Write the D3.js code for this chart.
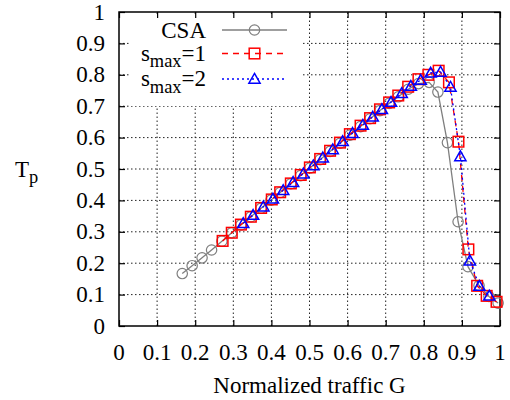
<!DOCTYPE html>
<html><head><meta charset="utf-8">
<script src="https://cdn.jsdelivr.net/npm/d3@7"></script>
<style>body{margin:0;background:#fff}svg{display:block}</style>
</head><body><svg id="c" width="510" height="400" font-family="'Liberation Serif', 'DejaVu Serif', serif"></svg>
<script>
const xTicks = [0,0.1,0.2,0.3,0.4,0.5,0.6,0.7,0.8,0.9,1];
const xTickLabels = ["0","0.1","0.2","0.3","0.4","0.5","0.6","0.7","0.8","0.9","1"];
const yTicks = [0,0.1,0.2,0.3,0.4,0.5,0.6,0.7,0.8,0.9,1];
const yTickLabels = ["0","0.1","0.2","0.3","0.4","0.5","0.6","0.7","0.8","0.9","1"];

const csaG = [0.166,0.192,0.218,0.243,0.270,0.296,0.320,0.346,0.373,0.399,0.423,0.451,0.477,0.501,0.528,0.554,0.580,0.606,0.634,0.659,0.685,0.709,0.733,0.759,0.786,0.814,0.837,0.862,0.890,0.916,0.945,0.971,0.995];
const csaT = [0.167,0.192,0.217,0.242,0.270,0.297,0.322,0.348,0.375,0.401,0.425,0.453,0.479,0.503,0.530,0.556,0.582,0.608,0.635,0.660,0.686,0.709,0.730,0.754,0.772,0.776,0.745,0.584,0.332,0.189,0.129,0.094,0.073];

const s1G = [0.272,0.296,0.320,0.346,0.373,0.401,0.423,0.451,0.477,0.501,0.528,0.554,0.580,0.606,0.634,0.659,0.685,0.709,0.733,0.759,0.786,0.812,0.839,0.866,0.891,0.917,0.940,0.965,0.991];
const s1T = [0.271,0.297,0.323,0.348,0.376,0.403,0.426,0.454,0.481,0.505,0.532,0.558,0.584,0.611,0.638,0.662,0.690,0.712,0.734,0.762,0.786,0.800,0.813,0.776,0.587,0.244,0.128,0.096,0.077];

const s2G = [0.326,0.352,0.379,0.404,0.431,0.457,0.484,0.510,0.535,0.561,0.587,0.613,0.640,0.666,0.690,0.714,0.742,0.766,0.792,0.818,0.844,0.870,0.896,0.921,0.946,0.972];
const s2T = [0.327,0.353,0.380,0.405,0.432,0.458,0.485,0.511,0.536,0.562,0.588,0.614,0.640,0.666,0.690,0.713,0.741,0.764,0.783,0.806,0.809,0.761,0.540,0.208,0.127,0.096];

const svg = d3.select("#c");
const x = d3.scaleLinear().domain([0,1]).range([119,500]);
const y = d3.scaleLinear().domain([0,1]).range([326,12]);
const FS = 23;

// grid
const grid = svg.append("g");
grid.selectAll("line.gx").data(xTicks.slice(1,-1)).join("line")
  .attr("x1",d=>x(d)).attr("x2",d=>x(d)).attr("y1",y(0)).attr("y2",y(1))
  .attr("stroke","#222").attr("stroke-width",1).attr("stroke-dasharray","1.5,2.5");
grid.selectAll("line.gy").data(yTicks.slice(1,-1)).join("line")
  .attr("x1",x(0)).attr("x2",x(1)).attr("y1",d=>y(d)).attr("y2",d=>y(d))
  .attr("stroke","#222").attr("stroke-width",1).attr("stroke-dasharray","1.5,2.5");

// legend background (opaque key)
svg.append("rect").attr("x",129).attr("y",16).attr("width",174).attr("height",90).attr("fill","#fff");

// axes with inside ticks on all sides
const tl = 6;
svg.append("g").attr("transform",`translate(0,${y(0)})`)
  .call(d3.axisBottom(x).tickValues(xTicks).tickSize(-tl).tickFormat(""))
  .call(g=>g.select(".domain").remove());
svg.append("g").attr("transform",`translate(0,${y(1)})`)
  .call(d3.axisTop(x).tickValues(xTicks).tickSize(-tl).tickFormat(""))
  .call(g=>g.select(".domain").remove());
svg.append("g").attr("transform",`translate(${x(0)},0)`)
  .call(d3.axisLeft(y).tickValues(yTicks).tickSize(-tl).tickFormat(""))
  .call(g=>g.select(".domain").remove());
svg.append("g").attr("transform",`translate(${x(1)},0)`)
  .call(d3.axisRight(y).tickValues(yTicks).tickSize(-tl).tickFormat(""))
  .call(g=>g.select(".domain").remove());
svg.selectAll(".tick line").attr("stroke","#000").attr("stroke-width",1.2);

svg.append("rect").attr("x",x(0)).attr("y",y(1)).attr("width",x(1)-x(0)).attr("height",y(0)-y(1))
  .attr("fill","none").attr("stroke","#000").attr("stroke-width",1.5);

// tick labels
svg.append("g").selectAll("text").data(xTicks).join("text")
  .attr("x",d=>x(d)).attr("y",359.5).attr("text-anchor","middle").attr("font-size",FS)
  .text((d,i)=>xTickLabels[i]);
svg.append("g").selectAll("text").data(yTicks).join("text")
  .attr("x",105).attr("y",d=>y(d)+7.5).attr("text-anchor","end").attr("font-size",FS)
  .text((d,i)=>yTickLabels[i]);

// axis labels
svg.append("text").attr("x",x(0.5)).attr("y",393).attr("text-anchor","middle").attr("font-size",FS)
  .text("Normalized traffic G");
const yl = svg.append("text").attr("x",15).attr("y",177).attr("font-size",FS);
yl.append("tspan").text("T");
yl.append("tspan").attr("dy",6).attr("font-size",18.4).text("p");

// series
const series = [
  {name:"CSA", G:csaG, T:csaT, color:"#7f7f7f", dash:null, sym:"circle"},
  {name:"s1", G:s1G, T:s1T, color:"#ff0000", dash:"6,5", sym:"square"},
  {name:"s2", G:s2G, T:s2T, color:"#0000ff", dash:"2,3", sym:"triangle"}
];
const line = d3.line().x(d=>x(d[0])).y(d=>y(d[1]));
function drawSym(g, sym, color, px, py){
  if(sym==="circle"){
    g.append("circle").attr("cx",px).attr("cy",py).attr("r",5.2)
      .attr("fill","none").attr("stroke",color).attr("stroke-width",1.2);
  } else if(sym==="square"){
    g.append("rect").attr("x",px-5.3).attr("y",py-5.3).attr("width",10.6).attr("height",10.6)
      .attr("fill","none").attr("stroke",color).attr("stroke-width",1.5);
  } else {
    const s=5.6;
    g.append("path").attr("d",`M${px},${py-s}L${px+s},${py+s*0.75}L${px-s},${py+s*0.75}Z`)
      .attr("fill","none").attr("stroke",color).attr("stroke-width",1.5);
  }
}
series.forEach(s=>{
  const pts = s.G.map((g,i)=>[g,s.T[i]]);
  const g = svg.append("g");
  g.append("path").attr("d",line(pts)).attr("fill","none").attr("stroke",s.color)
    .attr("stroke-width",1.3).attr("stroke-dasharray",s.dash);
  pts.forEach(p=>drawSym(g,s.sym,s.color,x(p[0]),y(p[1])));
});

// legend
const leg = svg.append("g");
const legY = [30,53.5,79];
series.forEach((s,i)=>{
  leg.append("line").attr("x1",222).attr("x2",287).attr("y1",legY[i]).attr("y2",legY[i])
    .attr("stroke",s.color).attr("stroke-width",1.3).attr("stroke-dasharray",s.dash);
  drawSym(leg,s.sym,s.color,254.5,legY[i]);
});
leg.append("text").attr("x",206).attr("y",38).attr("text-anchor","end").attr("font-size",FS).text("CSA");
["1","2"].forEach((v,i)=>{
  const t = leg.append("text").attr("x",206).attr("y",legY[i+1]+7).attr("text-anchor","end").attr("font-size",FS);
  t.append("tspan").text("s");
  t.append("tspan").attr("dy",6.5).attr("font-size",18.4).text("max");
  t.append("tspan").attr("dy",-6.5).text("="+v);
});
</script></body></html>
